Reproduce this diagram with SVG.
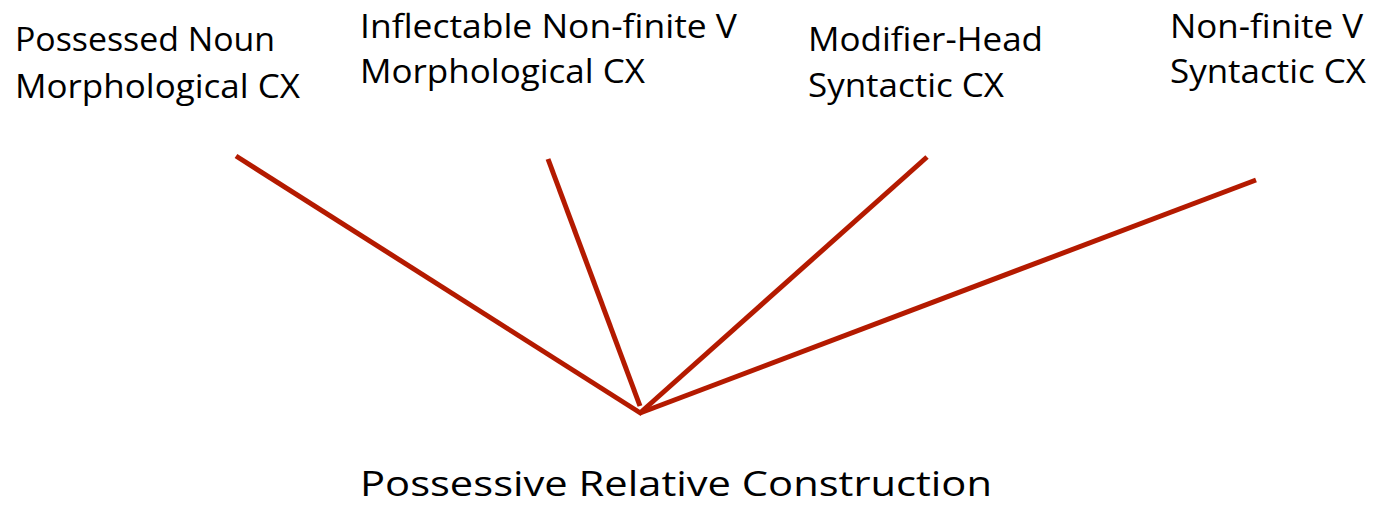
<svg xmlns="http://www.w3.org/2000/svg" width="1374" height="507" viewBox="0 0 1374 507">
<style>
.t{font-family:"Open Sans","Noto Sans",sans-serif;font-size:32px;fill:#000}
.b{font-size:35px}
.c{stroke:#B41A00;stroke-width:5;fill:none}
</style>
<rect width="1374" height="507" fill="#fff"/>
<g id="connectors">
<line class="c" x1="236" y1="156" x2="642" y2="414"/>
<line class="c" x1="548" y1="159" x2="640" y2="406"/>
<line class="c" x1="927" y1="157" x2="640" y2="413"/>
<line class="c" x1="1256" y1="180" x2="640" y2="413"/>
</g>
<g id="n1"><text class="t" x="15" y="51" textLength="260" lengthAdjust="spacingAndGlyphs">Possessed Noun</text><text class="t" x="15" y="98" textLength="285" lengthAdjust="spacingAndGlyphs">Morphological CX</text></g>
<g id="n2"><text class="t" x="360" y="38" textLength="377" lengthAdjust="spacingAndGlyphs">Inflectable Non-finite V</text><text class="t" x="360" y="83" textLength="285" lengthAdjust="spacingAndGlyphs">Morphological CX</text></g>
<g id="n3"><text class="t" x="808" y="51" textLength="235" lengthAdjust="spacingAndGlyphs">Modifier-Head</text><text class="t" x="808" y="97" textLength="196" lengthAdjust="spacingAndGlyphs">Syntactic CX</text></g>
<g id="n4"><text class="t" x="1170" y="38" textLength="193" lengthAdjust="spacingAndGlyphs">Non-finite V</text><text class="t" x="1170" y="83" textLength="196" lengthAdjust="spacingAndGlyphs">Syntactic CX</text></g>
<g id="root"><text class="t b" x="360" y="496" textLength="632" lengthAdjust="spacingAndGlyphs">Possessive Relative Construction</text></g>
</svg>
